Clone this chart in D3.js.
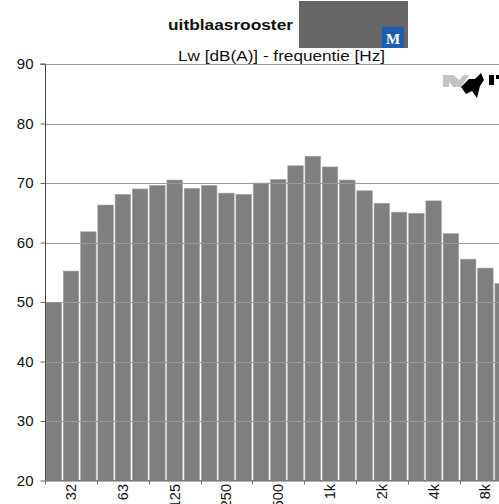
<!DOCTYPE html>
<html><head><meta charset="utf-8">
<script src="https://cdn.jsdelivr.net/npm/d3@7/dist/d3.min.js"></script>
<style>body{margin:0;background:#fff;overflow:hidden}svg{display:block}</style>
</head><body><svg id="c" width="499" height="504" font-family="Liberation Sans, Arial, sans-serif"></svg>
<script>
const bands = ["25","32","40","50","63","80","100","125","160","200","250","315","400","500","630","800","1k","1.25k","1.6k","2k","2.5k","3.15k","4k","5k","6.3k","8k","10k"];
const values = [49.9,55.2,61.8,66.3,68.1,69.0,69.6,70.5,69.1,69.6,68.3,68.1,70.0,70.6,72.9,74.5,72.7,70.5,68.7,66.6,65.1,64.9,67.0,61.5,57.2,55.7,53.1];
const tickLabels = ["32","63","125","250","500","1k","2k","4k","8k"];
const yTicks = [20,30,40,50,60,70,80,90];
const title = "uitblaasrooster";
const subtitle = "Lw [dB(A)] - frequentie [Hz]";

(function(){
const svg = d3.select("#c");
const pLeft = 45.5, pTop = 64, pBottom = 480.5;
const x = d3.scaleBand().domain(bands).range([pLeft, pLeft + 27*17.24]).paddingInner(0.1).paddingOuter(0.03);
const y = d3.scaleLinear().domain([20,90]).range([pBottom, pTop]);

// grid under bars
svg.append("g").selectAll("line").data(yTicks).join("line")
  .attr("x1", pLeft).attr("x2", 499).attr("y1", d=>Math.round(y(d))+0.5).attr("y2", d=>Math.round(y(d))+0.5)
  .attr("stroke", "#b4b4b4").attr("stroke-width", 1.2);

// bars
svg.append("g").selectAll("rect").data(values).join("rect")
  .attr("x", (d,i)=>x(bands[i])).attr("width", x.bandwidth())
  .attr("y", d=>y(d)).attr("height", d=>pBottom - y(d))
  .attr("fill", "#7f7f7f").attr("stroke", "#a8a8a8").attr("stroke-width", 0.6);

// grid over bars (subtle)
svg.append("g").selectAll("line").data(yTicks.filter(d=>d>20)).join("line")
  .attr("x1", pLeft).attr("x2", 499).attr("y1", d=>Math.round(y(d))+0.5).attr("y2", d=>Math.round(y(d))+0.5)
  .attr("stroke", "#9a9a9a").attr("stroke-width", 1);

// y axis
const yAxis = d3.axisLeft(y).tickValues(yTicks).tickSize(5).tickPadding(7);
const ya = svg.append("g").attr("transform", `translate(${pLeft},0)`).call(yAxis);
ya.attr("font-family", null);
ya.select(".domain").attr("stroke", "#444").attr("d", `M-5,${pTop}H0V${pBottom}`);
ya.selectAll(".tick line").attr("stroke", "#666");
ya.selectAll(".tick text").attr("font-size", 15).attr("fill", "#111");

// x axis baseline and ticks
svg.append("line").attr("x1", pLeft).attr("x2", 499).attr("y1", pBottom).attr("y2", pBottom).attr("stroke", "#777");
const step = x.step();
const bnds = bands.filter((d,i)=>i%3===0);
svg.append("g").selectAll("line").data(bnds).join("line")
  .attr("x1", d=>Math.round(x(d) - step*0.05)+0.5).attr("x2", d=>Math.round(x(d) - step*0.05)+0.5)
  .attr("y1", pBottom).attr("y2", pBottom+4).attr("stroke", "#777");
svg.append("g").selectAll("text").data(tickLabels).join("text")
  .attr("transform", d=>`translate(${x(d)+x.bandwidth()/2+5},484) rotate(-90)`)
  .attr("text-anchor", "end").attr("font-size", 14.5).attr("fill", "#111").text(d=>d);

// titles
svg.append("text").attr("x", 168).attr("y", 30).attr("font-size", 15.5).attr("font-weight", "bold")
  .attr("textLength", 125).attr("lengthAdjust", "spacingAndGlyphs").attr("fill", "#111").text(title);
svg.append("text").attr("x", 178).attr("y", 61).attr("font-size", 15)
  .attr("textLength", 207).attr("lengthAdjust", "spacingAndGlyphs").attr("fill", "#111").text(subtitle);

// redaction box + blue M logo
svg.append("rect").attr("x", 299).attr("y", 1).attr("width", 109).attr("height", 47).attr("fill", "#666");
svg.append("rect").attr("x", 382).attr("y", 27).attr("width", 22).attr("height", 21).attr("fill", "#1c5fb0");
svg.append("text").attr("x", 393).attr("y", 43.5).attr("text-anchor", "middle").attr("font-size", 15)
  .attr("font-weight", "bold").style("font-family", "'Liberation Serif', 'DejaVu Serif', serif").attr("fill", "#fff").text("M");

// corner logo
const lg = svg.append("g");
lg.append("path").attr("d", "M443,75H454L459,80L464,75H469L461,87H453L449,82V87H443Z").attr("fill", "#c4c4c4");
lg.append("path").attr("d", "M461,87L469,79H475L481,73L484,80L480,86L477,98L472,91L466,94Z").attr("fill", "#000");
lg.append("path").attr("d", "M489,75H494V85H489Z").attr("fill", "#000");
lg.append("path").attr("d", "M496,75H499V79H496Z").attr("fill", "#000");
})();
</script></body></html>
